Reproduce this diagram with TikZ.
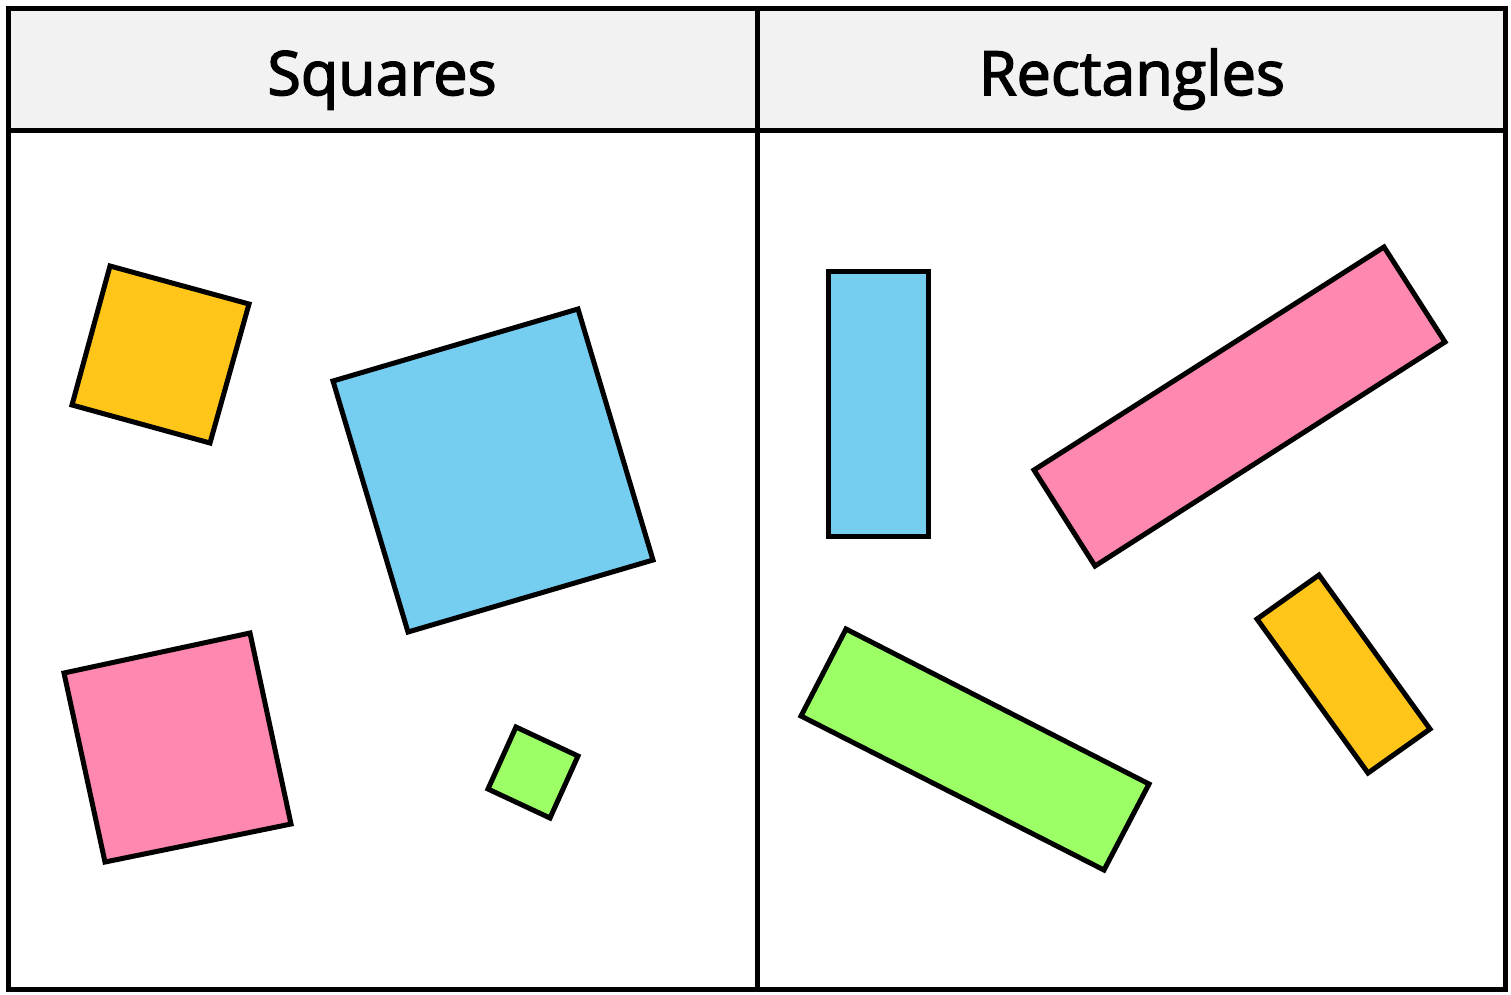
\documentclass[tikz,border=0pt]{standalone}
\usepackage{fontspec}
\setmainfont{Open Sans}
\newfontfamily\titlefont{Open Sans}[FakeBold=2.5]
\definecolor{hdr}{HTML}{F2F2F2}
\definecolor{cyellow}{HTML}{FFC619}
\definecolor{cblue}{HTML}{75CEF0}
\definecolor{cpink}{HTML}{FF88B0}
\definecolor{cgreen}{HTML}{9CFF66}
\begin{document}
\begin{tikzpicture}[x=1pt,y=-1pt,
  frame/.style={draw=black,line width=5pt},
  shapebox/.style={draw=black,line width=5pt,line join=miter},
  title/.style={font=\titlefont\fontsize{61}{66}\selectfont,text=black,anchor=base}]
\useasboundingbox (0,0) rectangle (1511,994);
\fill[white] (0,0) rectangle (1511,994);
\fill[hdr] (8,8) rectangle (1505,130);
\draw[frame] (8,8) rectangle (1505,989);
\draw[frame] (8,130) -- (1505,130);
\draw[frame] (757,8) -- (757,989);
\node[title] (sq) at (382,95) {Squares};
\node[title] (re) at (1132,95) {Rectangles};
% squares
\filldraw[shapebox,fill=cyellow] (110,266) -- (249,304) -- (210,443) -- (72,405) -- cycle;
\filldraw[shapebox,fill=cblue] (333,381) -- (578,309) -- (653,560) -- (408,632) -- cycle;
\filldraw[shapebox,fill=cpink] (64,673) -- (250,633) -- (291,824) -- (105,862) -- cycle;
\filldraw[shapebox,fill=cgreen] (516,727) -- (578,756) -- (550,818) -- (488,789) -- cycle;
% rectangles
\filldraw[shapebox,fill=cblue] (828,271) -- (928,271) -- (928,536) -- (828,536) -- cycle;
\filldraw[shapebox,fill=cpink] (1034,470) -- (1384,247) -- (1445,342) -- (1095,566) -- cycle;
\filldraw[shapebox,fill=cgreen] (846,629) -- (1149,784) -- (1104,870) -- (801,716) -- cycle;
\filldraw[shapebox,fill=cyellow] (1257,619) -- (1319,575) -- (1430,729) -- (1368,773) -- cycle;
\end{tikzpicture}
\end{document}
